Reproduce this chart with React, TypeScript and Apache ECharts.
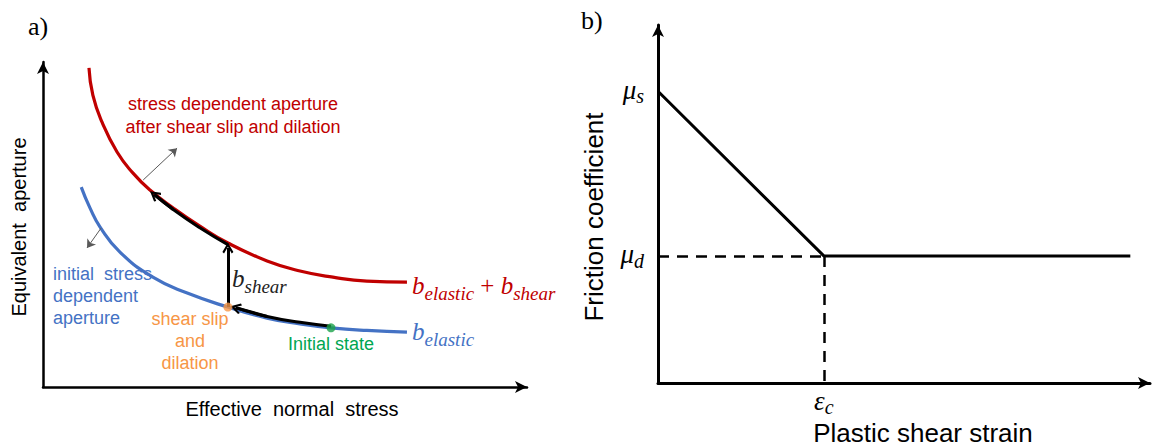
import React, { useEffect, useRef } from "react";
import * as echarts from "echarts";

// ---------- Panel a data (effective normal stress vs equivalent aperture) ----------
const stressRed = [0.95, 1.03, 1.22, 1.53, 1.86, 2.21, 2.69, 3.24, 3.82, 4.63, 5.31, 5.99, 6.69, 7.52];
const apertureRed = [9.82, 8.98, 8.15, 7.23, 6.58, 6.06, 5.51, 4.95, 4.43, 3.88, 3.57, 3.38, 3.26, 3.23];

const stressBlue = [0.79, 0.97, 1.18, 1.59, 2.27, 2.98, 3.82, 4.63, 5.31, 5.95, 6.69, 7.52];
const apertureBlue = [6.15, 5.51, 4.92, 4.15, 3.38, 2.89, 2.46, 2.12, 1.94, 1.82, 1.74, 1.69];

// black path along the red curve (after the shear jump)
const shearPathX = [3.82, 3.24, 2.69, 2.3];
const shearPathY = [4.38, 4.9, 5.46, 5.92];
// black path along the blue curve (from initial state to slip point)
const slipPathX = [5.95, 5.31, 4.63, 3.98];
const slipPathY = [1.87, 1.99, 2.17, 2.44];

const shearSlipPoint = [3.82, 2.46];
const initialStatePoint = [5.95, 1.82];
const shearJumpTop = [3.82, 4.28];

const dilationArrowRed = [[2.07, 6.37], [2.77, 7.35]];
const dilationArrowBlue = [[1.2, 4.89], [0.91, 4.28]];

// ---------- Panel b data (plastic shear strain vs friction coefficient) ----------
const muS = 8.15;
const muD = 3.55;
const epsC = 3.37;
const strainEnd = 9.6;
const frictionX = [0, epsC, strainEnd];
const frictionY = [muS, muD, muD];

const SANS = '"Liberation Sans", Arial, sans-serif';
const SERIF = '"Liberation Serif", "Times New Roman", serif';

const CHEVRON = "path://M6,0 L12,8.5 L10.2,9.8 L6,3.8 L1.8,9.8 L0,8.5 Z";

const zip = (xs: number[], ys: number[]) => xs.map((x, i) => [x, ys[i]]);

function mathRich(color: string, big: number, small: number, lift: number) {
  return {
    b: { fontFamily: SERIF, fontStyle: "italic", fontSize: big, fill: color, padding: [0, 0, lift, 0], verticalAlign: "bottom" },
    s: { fontFamily: SERIF, fontStyle: "italic", fontSize: small, fill: color, verticalAlign: "bottom" },
    p: { fontFamily: SERIF, fontSize: big, fill: color, padding: [0, 0, lift, 0], verticalAlign: "bottom" },
  };
}

function text(x: number, y: number, t: string, opts: any = {}) {
  return {
    type: "text",
    x,
    y,
    rotation: opts.rotation || 0,
    silent: true,
    style: {
      text: t,
      fill: opts.color || "#000",
      font: opts.font || `18px ${SANS}`,
      align: opts.align || "center",
      verticalAlign: "middle",
      rich: opts.rich,
    },
  };
}

export default function App() {
  const ref = useRef<HTMLDivElement>(null);

  useEffect(() => {
    if (!ref.current) return;
    const chart = echarts.init(ref.current, null, { renderer: "svg" });

    const hiddenAxis = (gridIndex: number, w: number) => ({
      gridIndex,
      type: "value",
      min: 0,
      max: 10,
      axisLine: {
        show: true,
        onZero: false,
        symbol: ["none", "arrow"],
        symbolSize: [9, 12],
        lineStyle: { color: "#000", width: w },
      },
      axisTick: { show: false },
      axisLabel: { show: false },
      splitLine: { show: false },
    });

    const red = "#C00000";
    const blue = "#4472C4";
    const orange = "#F79646";
    const green = "#00A651";

    const mathLabelRich = {
      m: { fontFamily: SERIF, fontStyle: "italic", fontSize: 27, color: "#000", padding: [0, 0, 3, 0], verticalAlign: "bottom" },
      s: { fontFamily: SERIF, fontStyle: "italic", fontSize: 20, color: "#000", verticalAlign: "bottom" },
    };

    const option: any = {
      animation: false,
      backgroundColor: "#fff",
      grid: [
        { left: 43, top: 62, width: 484, height: 325 },
        { left: 658, top: 25, width: 492, height: 358 },
      ],
      xAxis: [
        hiddenAxis(0, 2.5),
        {
          ...hiddenAxis(1, 3),
          axisLabel: {
            show: true,
            customValues: [epsC],
            margin: 4,
            formatter: () => "{m|ε}{s|c}",
            rich: mathLabelRich,
          },
        },
      ],
      yAxis: [
        hiddenAxis(0, 2.5),
        {
          ...hiddenAxis(1, 3),
          axisLabel: {
            show: true,
            customValues: [muD, muS],
            margin: 14,
            formatter: (v: number) => (Math.abs(v - muS) < 1e-6 ? "{m|μ}{s|s}" : "{m|μ}{s|d}"),
            rich: mathLabelRich,
          },
        },
      ],
      series: [
        {
          type: "line",
          xAxisIndex: 0,
          yAxisIndex: 0,
          data: zip(stressRed, apertureRed),
          smooth: 0.5,
          showSymbol: false,
          lineStyle: { color: red, width: 3.2 },
          z: 2,
        },
        {
          type: "line",
          xAxisIndex: 0,
          yAxisIndex: 0,
          data: zip(stressBlue, apertureBlue),
          smooth: 0.5,
          showSymbol: false,
          lineStyle: { color: blue, width: 3.2 },
          z: 2,
        },
        {
          type: "line",
          xAxisIndex: 0,
          yAxisIndex: 0,
          data: zip(shearPathX, shearPathY),
          smooth: 0.5,
          showSymbol: false,
          lineStyle: { color: "#000", width: 3 },
          z: 3,
        },
        {
          type: "line",
          xAxisIndex: 0,
          yAxisIndex: 0,
          data: zip(slipPathX, slipPathY),
          smooth: 0.5,
          showSymbol: false,
          lineStyle: { color: "#000", width: 3 },
          z: 3,
        },
        {
          type: "lines",
          coordinateSystem: "cartesian2d",
          xAxisIndex: 0,
          yAxisIndex: 0,
          symbol: ["none", CHEVRON],
          symbolSize: [15, 11],
          lineStyle: { color: "#000", width: 3, opacity: 1 },
          itemStyle: { color: "#000" },
          z: 4,
          data: [
            { coords: [shearSlipPoint, shearJumpTop] },
            {
              coords: [
                [shearPathX[shearPathX.length - 2], shearPathY[shearPathY.length - 2]],
                [shearPathX[shearPathX.length - 1], shearPathY[shearPathY.length - 1]],
              ],
            },
            {
              coords: [
                [slipPathX[slipPathX.length - 2], slipPathY[slipPathY.length - 2]],
                [slipPathX[slipPathX.length - 1], slipPathY[slipPathY.length - 1]],
              ],
            },
          ],
        },
        {
          type: "lines",
          coordinateSystem: "cartesian2d",
          xAxisIndex: 0,
          yAxisIndex: 0,
          symbol: ["none", "arrow"],
          symbolSize: [6, 8],
          lineStyle: { color: "#595959", width: 1, opacity: 1 },
          itemStyle: { color: "#333" },
          z: 4,
          data: [{ coords: dilationArrowRed }, { coords: dilationArrowBlue }],
        },
        {
          type: "scatter",
          xAxisIndex: 0,
          yAxisIndex: 0,
          data: [shearSlipPoint],
          symbolSize: 9,
          itemStyle: { color: orange },
          z: 5,
        },
        {
          type: "scatter",
          xAxisIndex: 0,
          yAxisIndex: 0,
          data: [initialStatePoint],
          symbolSize: 9,
          itemStyle: { color: "#1BA34A" },
          z: 5,
        },
        // Panel b
        {
          type: "line",
          xAxisIndex: 1,
          yAxisIndex: 1,
          data: zip(frictionX, frictionY),
          showSymbol: false,
          lineStyle: { color: "#000", width: 3 },
          z: 3,
        },
        {
          type: "lines",
          coordinateSystem: "cartesian2d",
          xAxisIndex: 1,
          yAxisIndex: 1,
          lineStyle: { color: "#000", width: 2.5, type: [11, 8], opacity: 1 },
          z: 2,
          data: [
            { coords: [[0, muD], [epsC, muD]] },
            { coords: [[epsC, muD], [epsC, 0]] },
          ],
        },
      ],
      graphic: [
        text(28, 26, "a)", { align: "left", font: `26px ${SERIF}` }),
        text(581, 20, "b)", { align: "left", font: `26px ${SERIF}` }),
        text(19, 227, "Equivalent  aperture", { rotation: Math.PI / 2, font: `20px ${SANS}` }),
        text(292, 409, "Effective  normal  stress", { font: `20px ${SANS}` }),
        text(233, 104, "stress dependent aperture", { color: red }),
        text(233, 127, "after shear slip and dilation", { color: red }),
        text(53, 274, "initial  stress", { color: blue, align: "left" }),
        text(53, 296, "dependent", { color: blue, align: "left" }),
        text(53, 318, "aperture", { color: blue, align: "left" }),
        text(190, 319, "shear slip", { color: orange }),
        text(190, 341, "and", { color: orange }),
        text(190, 363, "dilation", { color: orange }),
        text(331, 344, "Initial state", { color: green }),
        text(232, 281, "{b|b}{s|shear}", { align: "left", rich: mathRich("#222", 25, 19, 5) }),
        text(412, 288, "{b|b}{s|elastic}{p| + }{b|b}{s|shear}", { align: "left", color: red, rich: mathRich(red, 25, 19, 5) }),
        text(412, 334, "{b|b}{s|elastic}", { align: "left", color: blue, rich: mathRich(blue, 25, 19, 5) }),
        text(594, 217, "Friction coefficient", { rotation: Math.PI / 2, font: `26px ${SANS}` }),
        text(923, 433, "Plastic shear strain", { font: `26px ${SANS}` }),
      ],
    };

    chart.setOption(option);
    return () => chart.dispose();
  }, []);

  return (
    <div
      ref={ref}
      style={{ position: "fixed", left: 0, top: 0, width: 1157, height: 447, background: "#fff" }}
    />
  );
}
